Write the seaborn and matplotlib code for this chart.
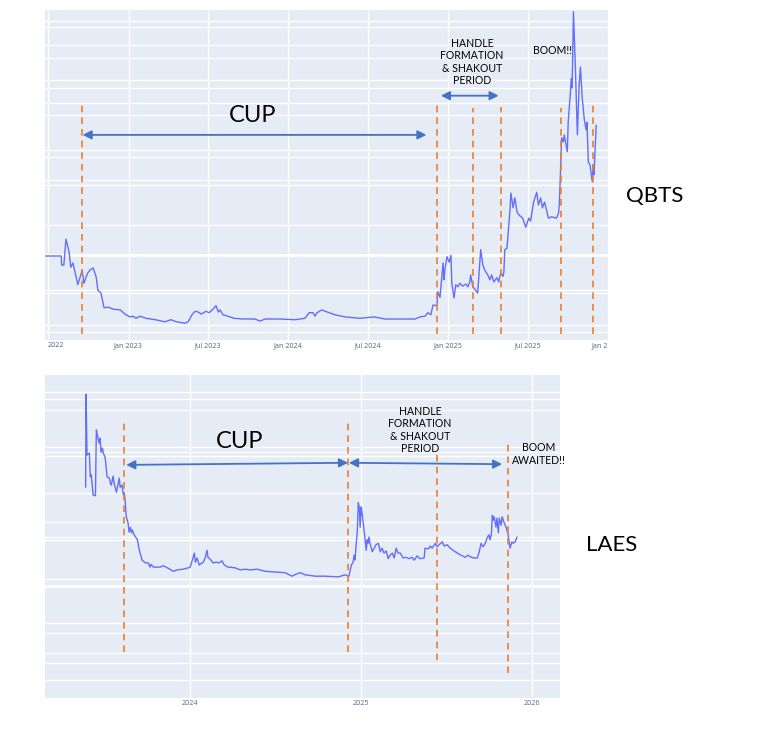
import pandas as pd
import matplotlib
matplotlib.use("Agg")
import matplotlib.pyplot as plt
import seaborn as sns

W, H = 770, 753

# ---- QBTS (top chart) ----
qbts_dates = [
    "2022-06-20", "2022-07-31", "2022-08-01", "2022-08-06", "2022-08-11", "2022-08-18", "2022-08-22", "2022-08-27", "2022-09-03", "2022-09-07",
    "2022-09-12", "2022-09-17", "2022-09-21", "2022-09-26", "2022-09-30", "2022-10-05", "2022-10-12", "2022-10-19", "2022-10-23", "2022-10-30",
    "2022-11-06", "2022-11-15", "2022-11-27", "2022-12-13", "2022-12-24", "2023-01-04", "2023-01-11", "2023-01-18", "2023-01-27", "2023-02-10",
    "2023-03-03", "2023-03-25", "2023-04-08", "2023-04-20", "2023-05-10", "2023-05-17", "2023-05-26", "2023-06-02", "2023-06-09", "2023-06-16",
    "2023-06-27", "2023-07-04", "2023-07-13", "2023-07-20", "2023-07-25", "2023-07-29", "2023-08-05", "2023-08-16", "2023-08-30", "2023-09-20",
    "2023-10-17", "2023-10-29", "2023-11-09", "2023-12-13", "2024-01-17", "2024-01-28", "2024-02-08", "2024-02-18", "2024-02-27", "2024-03-02",
    "2024-03-07", "2024-03-18", "2024-03-30", "2024-04-17", "2024-05-10", "2024-06-13", "2024-07-15", "2024-08-09", "2024-09-13", "2024-10-17",
    "2024-10-28", "2024-11-09", "2024-11-15", "2024-11-22", "2024-11-27", "2024-12-06", "2024-12-08", "2024-12-13", "2024-12-17", "2024-12-20",
    "2024-12-22", "2024-12-24", "2024-12-29", "2025-01-03", "2025-01-07", "2025-01-09", "2025-01-14", "2025-01-18", "2025-01-23", "2025-01-27",
    "2025-02-03", "2025-02-10", "2025-02-15", "2025-02-19", "2025-02-21", "2025-02-26", "2025-03-02", "2025-03-09", "2025-03-16", "2025-03-21",
    "2025-03-25", "2025-04-01", "2025-04-06", "2025-04-10", "2025-04-15", "2025-04-22", "2025-04-26", "2025-05-01", "2025-05-06", "2025-05-08",
    "2025-05-10", "2025-05-15", "2025-05-17", "2025-05-22", "2025-05-24", "2025-05-29", "2025-06-02", "2025-06-07", "2025-06-11", "2025-06-20",
    "2025-06-27", "2025-07-04", "2025-07-08", "2025-07-15", "2025-07-22", "2025-07-26", "2025-07-31", "2025-08-04", "2025-08-09", "2025-08-18",
    "2025-08-25", "2025-09-05", "2025-09-10", "2025-09-12", "2025-09-17", "2025-09-21", "2025-09-23", "2025-09-30", "2025-10-02", "2025-10-07",
    "2025-10-09", "2025-10-11", "2025-10-14", "2025-10-18", "2025-10-23", "2025-10-27", "2025-10-30", "2025-11-03", "2025-11-08", "2025-11-12",
    "2025-11-14", "2025-11-17", "2025-11-21", "2025-11-26", "2025-11-28", "2025-11-30", "2025-12-03", "2025-12-05",
]
qbts_price = [
    10.0, 10.0, 8.7, 8.7, 12.4, 10.6, 8.4, 9.0, 7.0, 5.9,
    6.9, 8.0, 6.1, 7.0, 7.6, 8.0, 8.3, 7.0, 5.1, 4.7,
    2.6, 2.7, 2.4, 2.3, 1.7, 1.3, 1.4, 1.1, 1.4, 1.1,
    0.9, 0.6, 0.9, 0.6, 0.4, 0.6, 1.6, 2.1, 2.0, 1.7,
    2.1, 1.9, 2.4, 2.9, 2.0, 2.3, 1.6, 1.4, 1.1, 1.0,
    1.0, 0.7, 1.0, 1.0, 0.9, 1.0, 1.1, 1.9, 1.9, 1.4,
    1.9, 2.3, 2.0, 1.6, 1.3, 1.1, 1.3, 1.0, 1.0, 1.0,
    1.3, 1.4, 1.9, 1.6, 3.0, 2.9, 4.9, 4.1, 7.0, 9.0,
    6.6, 8.0, 9.9, 9.1, 10.1, 6.1, 4.0, 5.9, 5.6, 6.1,
    5.7, 6.0, 5.6, 6.3, 7.3, 5.6, 5.3, 4.7, 10.9, 8.7,
    8.0, 7.3, 6.6, 7.3, 6.3, 6.9, 6.3, 7.6, 7.1, 7.7,
    10.9, 11.1, 12.7, 16.6, 19.0, 16.9, 18.3, 16.3, 15.9, 15.4,
    14.1, 15.4, 15.0, 17.7, 19.1, 17.3, 18.3, 16.9, 17.7, 15.4,
    15.6, 15.4, 16.1, 17.7, 26.9, 26.3, 27.3, 24.9, 29.1, 33.3,
    35.4, 34.0, 44.9, 37.7, 27.3, 34.4, 37.0, 32.6, 29.4, 28.0,
    29.1, 23.4, 23.0, 20.6, 23.0, 21.6, 25.9, 28.7,
]
qbts_marks = ["2022-09-17", "2024-12-06", "2025-02-26", "2025-05-01", "2025-09-15", "2025-11-28"]
qbts_mark_top = [32.0, 31.6, 31.1, 31.3, 31.1, 31.6]
qbts_mark_bottom = [-1.1, -1.1, -1.1, -1.1, -1.1, -1.1]
qbts_grid = [-0.9, 0.1, 4.7, 5.1, 14.4, 20.1, 20.9, 24.1, 25.1, 30.1, 31.9, 34.0, 35.1, 38.3, 40.1, 42.7, 43.6]
qbts_zero = 10.1
qbts_ticks = ["2022-07-01", "2023-01-01", "2023-07-01", "2024-01-01", "2024-07-01", "2025-01-01", "2025-07-01", "2026-01-01"]
qbts_ticklabels = ["2022", "Jan 2023", "Jul 2023", "Jan 2024", "Jul 2024", "Jan 2025", "Jul 2025", "Jan 2"]
qbts_cup = ["2022-09-18", "2024-11-12"]
qbts_handle = ["2024-12-15", "2025-04-26"]

# ---- LAES (bottom chart) ----
laes_dates = [
    "2023-05-22", "2023-05-23", "2023-05-25", "2023-05-30", "2023-06-01", "2023-06-03", "2023-06-07", "2023-06-12", "2023-06-14", "2023-06-16",
    "2023-06-20", "2023-06-22", "2023-06-24", "2023-06-27", "2023-06-29", "2023-07-03", "2023-07-07", "2023-07-12", "2023-07-14", "2023-07-16",
    "2023-07-20", "2023-07-22", "2023-07-27", "2023-07-29", "2023-08-02", "2023-08-04", "2023-08-08", "2023-08-11", "2023-08-13", "2023-08-15",
    "2023-08-17", "2023-08-21", "2023-08-23", "2023-08-26", "2023-08-28", "2023-08-30", "2023-09-03", "2023-09-10", "2023-09-14", "2023-09-20",
    "2023-09-27", "2023-10-03", "2023-10-07", "2023-10-09", "2023-10-14", "2023-10-29", "2023-11-04", "2023-11-13", "2023-11-26", "2023-12-04",
    "2023-12-17", "2023-12-28", "2024-01-01", "2024-01-10", "2024-01-12", "2024-01-16", "2024-01-20", "2024-01-22", "2024-01-29", "2024-02-02",
    "2024-02-06", "2024-02-08", "2024-02-13", "2024-02-19", "2024-02-26", "2024-03-03", "2024-03-09", "2024-03-14", "2024-03-22", "2024-04-06",
    "2024-04-17", "2024-04-28", "2024-05-08", "2024-05-23", "2024-06-10", "2024-07-01", "2024-07-22", "2024-08-06", "2024-08-15", "2024-08-24",
    "2024-09-03", "2024-09-25", "2024-10-16", "2024-11-13", "2024-11-28", "2024-12-06", "2024-12-11", "2024-12-15", "2024-12-17", "2024-12-19",
    "2024-12-21", "2024-12-24", "2024-12-26", "2024-12-28", "2024-12-30", "2025-01-01", "2025-01-03", "2025-01-08", "2025-01-12", "2025-01-14",
    "2025-01-16", "2025-01-18", "2025-01-20", "2025-01-25", "2025-01-29", "2025-02-02", "2025-02-07", "2025-02-11", "2025-02-15", "2025-02-19",
    "2025-02-24", "2025-02-28", "2025-03-04", "2025-03-09", "2025-03-13", "2025-03-17", "2025-03-21", "2025-03-26", "2025-04-01", "2025-04-07",
    "2025-04-14", "2025-04-20", "2025-04-25", "2025-05-01", "2025-05-07", "2025-05-16", "2025-05-18", "2025-05-25", "2025-05-29", "2025-06-02",
    "2025-06-09", "2025-06-13", "2025-06-17", "2025-06-24", "2025-06-28", "2025-07-04", "2025-07-11", "2025-07-17", "2025-07-26", "2025-08-03",
    "2025-08-12", "2025-08-18", "2025-08-25", "2025-08-31", "2025-09-07", "2025-09-11", "2025-09-15", "2025-09-19", "2025-09-24", "2025-09-28",
    "2025-10-02", "2025-10-04", "2025-10-07", "2025-10-09", "2025-10-11", "2025-10-13", "2025-10-17", "2025-10-19", "2025-10-22", "2025-10-24",
    "2025-10-28", "2025-10-30", "2025-11-03", "2025-11-08", "2025-11-12", "2025-11-16", "2025-11-20", "2025-11-23", "2025-11-27", "2025-12-01",
]
laes_price = [
    14.1, 27.4, 18.7, 19.0, 15.6, 15.9, 13.0, 12.9, 22.3, 21.6,
    20.4, 21.1, 19.1, 19.7, 19.0, 18.3, 15.6, 15.4, 14.7, 14.4,
    15.7, 14.7, 13.4, 14.1, 15.4, 14.1, 14.4, 13.0, 13.3, 11.9,
    9.9, 9.0, 7.7, 8.4, 7.6, 8.0, 7.3, 6.6, 5.1, 3.7,
    3.3, 3.3, 2.7, 3.1, 2.7, 2.7, 2.9, 2.6, 2.1, 2.3,
    2.4, 2.6, 2.7, 4.7, 3.4, 4.0, 3.0, 3.1, 3.4, 4.0,
    5.1, 4.1, 3.8, 3.3, 3.4, 3.3, 3.6, 3.0, 2.7, 2.6,
    2.3, 2.4, 2.3, 2.4, 2.1, 2.0, 1.9, 1.4, 1.7, 1.9,
    1.6, 1.4, 1.4, 1.3, 1.6, 1.4, 3.0, 3.4, 4.4, 3.7,
    5.6, 8.0, 11.9, 11.3, 8.4, 11.3, 10.4, 7.6, 5.1, 6.6,
    6.1, 7.0, 6.1, 4.9, 5.4, 5.9, 6.1, 4.9, 5.4, 4.7,
    5.0, 3.9, 4.4, 4.7, 4.0, 5.4, 4.7, 4.7, 4.0, 4.1,
    3.9, 4.1, 3.7, 4.3, 3.9, 4.0, 5.4, 5.3, 5.7, 5.4,
    6.1, 5.6, 5.9, 6.3, 5.7, 5.9, 5.4, 5.1, 4.7, 4.4,
    4.1, 4.4, 4.1, 4.0, 4.0, 4.9, 6.1, 5.6, 6.1, 6.9,
    7.3, 6.6, 7.3, 10.1, 9.4, 9.9, 8.4, 9.7, 7.6, 9.7,
    8.7, 9.9, 9.1, 8.3, 7.3, 5.4, 6.3, 6.1, 6.3, 7.0,
]
laes_marks = ["2023-08-13", "2024-12-04", "2025-06-13", "2025-11-12"]
laes_mark_top = [23.4, 23.4, 19.4, 20.4]
laes_mark_bottom = [-9.4, -9.4, -10.6, -12.4]
laes_grid = [27.7, 26.7, 25.1, 19.9, 19.1, 18.6, 13.3, 9.1, 7.0, 6.6, 1.0, -5.3, -6.7, -9.6, -11.0, -13.4]
laes_zero = 0.0
laes_ticks = ["2024-01-01", "2025-01-01", "2026-01-01"]
laes_ticklabels = ["2024", "2025", "2026"]
laes_cup = ["2023-08-17", "2024-12-04"]
laes_cup_y = [17.3, 17.6]
laes_handle = ["2024-12-06", "2025-10-30"]
laes_handle_y = [17.6, 17.4]

LINE = "#636EFA"
ORANGE = "#ED7D31"
ARROW = "#4472C4"
TICK = "#506784"

sns.set_style("darkgrid", {"axes.facecolor": "#E5ECF6", "grid.color": "white"})
plt.rcParams["font.family"] = ["Lato", "DejaVu Sans"]

fig = plt.figure(figsize=(W / 100, H / 100), dpi=100)
fig.patch.set_facecolor("white")


def box(left, top, right, bottom):
    return [left / W, 1 - bottom / H, (right - left) / W, (bottom - top) / H]


def label(x, y, s, size, **kw):
    fig.text(x / W, 1 - y / H, s, fontsize=size, ha="center", va="center",
             color="black", **kw)


def style_axes(ax, grid, zero, ticks, ticklabels):
    ax.set_yticks(grid)
    ax.set_xticks(pd.to_datetime(ticks))
    ax.set_xticklabels(ticklabels, family="Open Sans", fontsize=5.2, color=TICK)
    ax.tick_params(axis="both", length=0, pad=1.5, labelleft=False)
    ax.grid(True, color="white", linewidth=1.0)
    ax.axhline(zero, color="white", linewidth=2.0, zorder=0.9)
    ax.set_xlabel("")
    ax.set_ylabel("")
    for s in ax.spines.values():
        s.set_visible(False)


def double_arrow(ax, x0, x1, y0, y1):
    ax.annotate("", xy=(pd.Timestamp(x1), y1), xytext=(pd.Timestamp(x0), y0),
                arrowprops=dict(arrowstyle="<|-|>", color=ARROW, lw=1.3,
                                mutation_scale=13, shrinkA=0, shrinkB=0))


# top chart
ax1 = fig.add_axes(box(45, 10, 608, 340))
sns.lineplot(x=pd.to_datetime(qbts_dates), y=qbts_price, ax=ax1, color=LINE,
             linewidth=1.0, estimator=None)
ax1.vlines(pd.to_datetime(qbts_marks), qbts_mark_bottom, qbts_mark_top,
           colors=ORANGE, linestyles=(0, (4, 3)), linewidth=1.2)
ax1.set_xlim(pd.Timestamp("2022-06-24"), pd.Timestamp("2026-01-01"))
ax1.set_ylim(-2, 45.14)
style_axes(ax1, qbts_grid, qbts_zero, qbts_ticks, qbts_ticklabels)
tl = ax1.get_xticklabels()
tl[0].set_ha("left")
tl[-1].set_ha("right")
double_arrow(ax1, qbts_cup[0], qbts_cup[1], 27.3, 27.3)
double_arrow(ax1, qbts_handle[0], qbts_handle[1], 32.9, 32.9)

# bottom chart
ax2 = fig.add_axes(box(45, 375, 560, 698))
sns.lineplot(x=pd.to_datetime(laes_dates), y=laes_price, ax=ax2, color=LINE,
             linewidth=1.0, estimator=None)
ax2.vlines(pd.to_datetime(laes_marks), laes_mark_bottom, laes_mark_top,
           colors=ORANGE, linestyles=(0, (4, 3)), linewidth=1.2)
ax2.set_xlim(pd.Timestamp("2023-02-24"), pd.Timestamp("2026-03-03"))
ax2.set_ylim(-16, 30.14)
style_axes(ax2, laes_grid, laes_zero, laes_ticks, laes_ticklabels)
double_arrow(ax2, laes_cup[0], laes_cup[1], laes_cup_y[0], laes_cup_y[1])
double_arrow(ax2, laes_handle[0], laes_handle[1], laes_handle_y[0], laes_handle_y[1])

# annotations
handle_txt = "HANDLE\nFORMATION\n& SHAKOUT\nPERIOD"
label(253, 115, "CUP", 17)
label(472, 62, handle_txt, 7.6, linespacing=1.15)
label(553, 51, "BOOM!!", 7.6)
label(655, 196, "QBTS", 16)
label(240, 442, "CUP", 17)
label(420, 430, handle_txt, 7.6, linespacing=1.15)
label(539, 454, "BOOM\nAWAITED!!", 7.6, linespacing=1.15)
label(612, 545, "LAES", 16)

fig.savefig("out.png", dpi=100, facecolor="white")
